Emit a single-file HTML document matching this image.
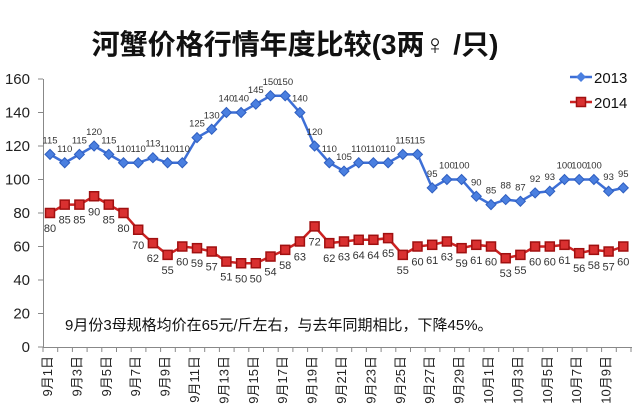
<!DOCTYPE html>
<html><head><meta charset="utf-8"><style>
html,body{margin:0;padding:0;background:#fff;width:640px;height:420px;overflow:hidden}
svg{display:block}
text{font-family:"Liberation Sans","Noto Sans CJK SC",sans-serif}
</style></head><body>
<svg id="s" width="640" height="420" viewBox="0 0 640 420" xmlns="http://www.w3.org/2000/svg">
<text x="295" y="54" font-size="28" font-weight="bold" text-anchor="middle" fill="#111">河蟹价格行情年度比较(3两♀ /只)</text>
<text x="65" y="330" font-size="15" fill="#111">9月份3母规格均价在65元/斤左右，与去年同期相比，下降45%。</text>
<g id="g"></g>
</svg>
<script>
const a=[115,110,115,120,115,110,110,113,110,110,125,130,140,140,145,150,150,140,120,110,105,110,110,110,115,115,95,100,100,90,85,88,87,92,93,100,100,100,93,95];
const b=[80,85,85,90,85,80,70,62,55,60,59,57,51,50,50,54,58,63,72,62,63,64,64,65,55,60,61,63,59,61,60,53,55,60,60,61,56,58,57,60];
const X=i=>50+i*14.7, Y=v=>347-v*1.675;
let h='';
h+='<line x1="43.5" y1="79" x2="43.5" y2="347" stroke="#888"/>';
h+='<line x1="43" y1="347.5" x2="632" y2="347.5" stroke="#888"/>';
for(let v=0;v<=160;v+=20){const y=Y(v);h+=`<line x1="38" y1="${y}" x2="43" y2="${y}" stroke="#888"/><text x="30" y="${y+5}" font-size="15" text-anchor="end" fill="#222">${v}</text>`;}
for(let i=0;i<=40;i++){const x=43+i*14.7;h+=`<line x1="${x}" y1="347" x2="${x}" y2="352" stroke="#888"/>`;}
for(let i=0;i<40;i+=2){const d=i+1;const lab=d<=30?`9月${d}日`:`10月${d-30}日`;const x=X(i)-3;h+=`<text transform="translate(${x+5},356) rotate(-90)" font-size="13" text-anchor="end" fill="#222">${lab}</text>`;}
const pa=a.map((v,i)=>`${X(i)},${Y(v)}`).join(' '), pb=b.map((v,i)=>`${X(i)},${Y(v)}`).join(' ');
h+=`<polyline points="${pa}" fill="none" stroke="#3d6fd6" stroke-width="2.5"/>`;
h+=`<polyline points="${pb}" fill="none" stroke="#cc2222" stroke-width="2.5"/>`;
a.forEach((v,i)=>{const x=X(i),y=Y(v);h+=`<polygon points="${x},${y-5} ${x+5},${y} ${x},${y+5} ${x-5},${y}" fill="#4a7fe0" stroke="#2f5fc0"/><text x="${x}" y="${y-11}" font-size="9.5" text-anchor="middle" fill="#333">${v}</text>`;});
b.forEach((v,i)=>{const x=X(i),y=Y(v);h+=`<rect x="${x-4.5}" y="${y-4.5}" width="9" height="9" fill="#d93030" stroke="#a01010" stroke-width="1.5"/><text x="${x}" y="${y+19}" font-size="11" text-anchor="middle" fill="#333">${v}</text>`;});
h+='<line x1="570" y1="77" x2="592" y2="77" stroke="#3d6fd6" stroke-width="2.5"/><polygon points="581,72 586,77 581,82 576,77" fill="#4a7fe0"/><text x="594" y="83" font-size="15" fill="#111">2013</text>';
h+='<line x1="570" y1="102" x2="592" y2="102" stroke="#cc2222" stroke-width="2.5"/><rect x="576.5" y="97.5" width="9" height="9" fill="#d93030" stroke="#a01010" stroke-width="1.5"/><text x="594" y="108" font-size="15" fill="#111">2014</text>';
document.getElementById('g').innerHTML=h;
</script>
</body></html>
